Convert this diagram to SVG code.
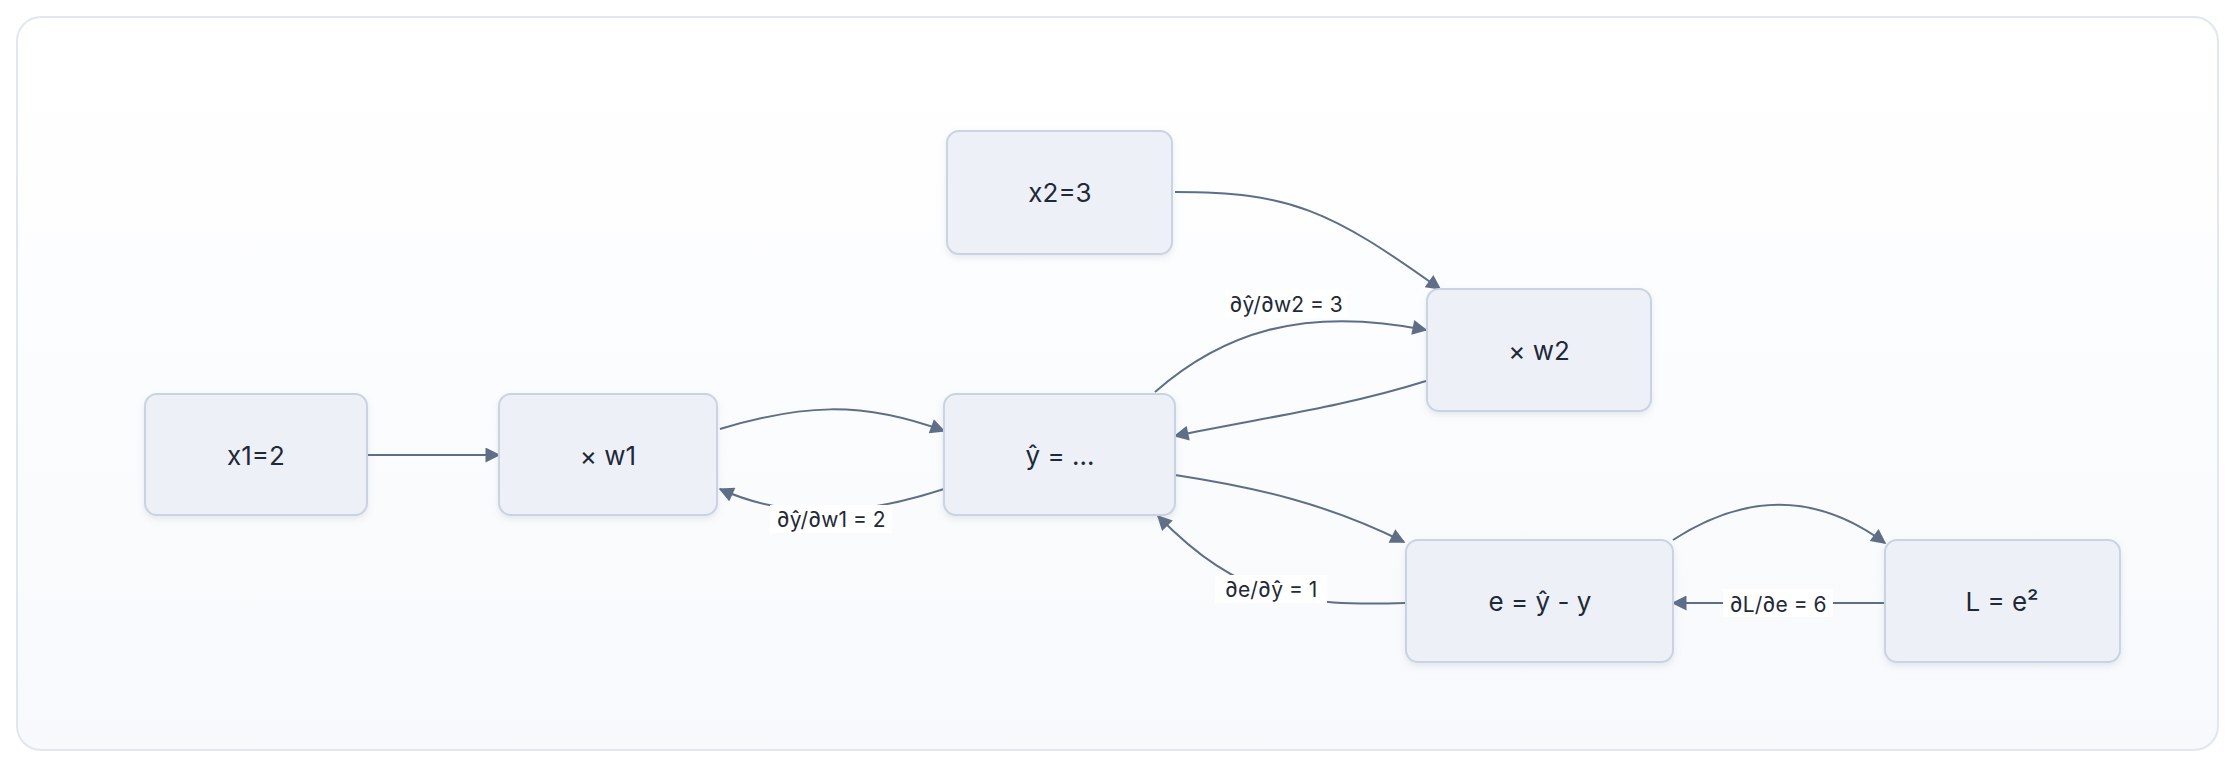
<svg xmlns="http://www.w3.org/2000/svg" width="2236" height="768" viewBox="0 0 2236 768">
<defs>
<linearGradient id="bg" x1="0" y1="0" x2="0" y2="1"><stop offset="0" stop-color="#ffffff"/><stop offset="1" stop-color="#f7f9fc"/></linearGradient>
<marker id="ah" viewBox="0 0 10 10" refX="9" refY="5" markerWidth="17" markerHeight="15" markerUnits="userSpaceOnUse" orient="auto"><path d="M0,0 L10,5 L0,10 z" fill="#5f6e87"/></marker>
<filter id="sh" x="-10%" y="-10%" width="120%" height="130%"><feDropShadow dx="0" dy="3" stdDeviation="3" flood-color="#8090a8" flood-opacity="0.18"/></filter>
</defs>
<style>
.n rect{fill:#edf1f7;stroke:#c9d3e2;stroke-width:2;filter:url(#sh)}
.n text{font-family:Inter,"Noto Sans",sans-serif;font-size:26px;fill:#1f2937;text-anchor:middle;dominant-baseline:central}
.e path{fill:none;stroke:#5f6e87;stroke-width:2;marker-end:url(#ah)}
.l rect{fill:#ffffff}
.l text{font-family:Inter,"Noto Sans",sans-serif;font-size:21px;fill:#1f2937;text-anchor:middle;dominant-baseline:central}
</style>
<rect x="17" y="17" width="2201" height="733" rx="24" fill="url(#bg)" stroke="#e2e6ee" stroke-width="2"/>
<g id="connectors">
<g class="e">
<path d="M367,455 L499,455"/>
<path d="M720,429 C800,405 860,400 944,431"/>
<path d="M944,489 C880,510 800,525 720,489"/>
<path d="M1175,192 C1290,192 1330,210 1440,289"/>
<path d="M1155,392 C1220,335 1300,305 1426,330"/>
<path d="M1426,381 C1340,408 1260,418 1175,436"/>
<path d="M1175,475 C1260,488 1330,505 1404,542"/>
<path d="M1405,603 C1300,606 1240,600 1158,516"/>
<path d="M1673,540 C1750,490 1820,495 1885,543"/>
<path d="M1885,603 L1673,603"/>
</g>
<g class="l">
<rect x="770" y="505" width="122" height="28"/><text x="831" y="519">∂ŷ/∂w1 = 2</text>
<rect x="1225" y="290" width="122" height="28"/><text x="1286" y="304">∂ŷ/∂w2 = 3</text>
<rect x="1215" y="575" width="112" height="28"/><text x="1271" y="589">∂e/∂ŷ = 1</text>
<rect x="1723" y="589" width="110" height="28"/><text x="1778" y="604">∂L/∂e = 6</text>
</g>
</g>
<g id="x1" class="n"><rect x="145" y="394" width="222" height="121" rx="12"/><text x="256" y="455">x1=2</text></g>
<g id="w1" class="n"><rect x="499" y="394" width="218" height="121" rx="12"/><text x="608" y="455">× w1</text></g>
<g id="yhat" class="n"><rect x="944" y="394" width="231" height="121" rx="12"/><text x="1060" y="455">ŷ = ...</text></g>
<g id="x2" class="n"><rect x="947" y="131" width="225" height="123" rx="12"/><text x="1060" y="192">x2=3</text></g>
<g id="w2" class="n"><rect x="1427" y="289" width="224" height="122" rx="12"/><text x="1539" y="350">× w2</text></g>
<g id="e" class="n"><rect x="1406" y="540" width="267" height="122" rx="12"/><text x="1540" y="601">e = ŷ - y</text></g>
<g id="L" class="n"><rect x="1885" y="540" width="235" height="122" rx="12"/><text x="2002" y="601">L = e²</text></g>
</svg>
